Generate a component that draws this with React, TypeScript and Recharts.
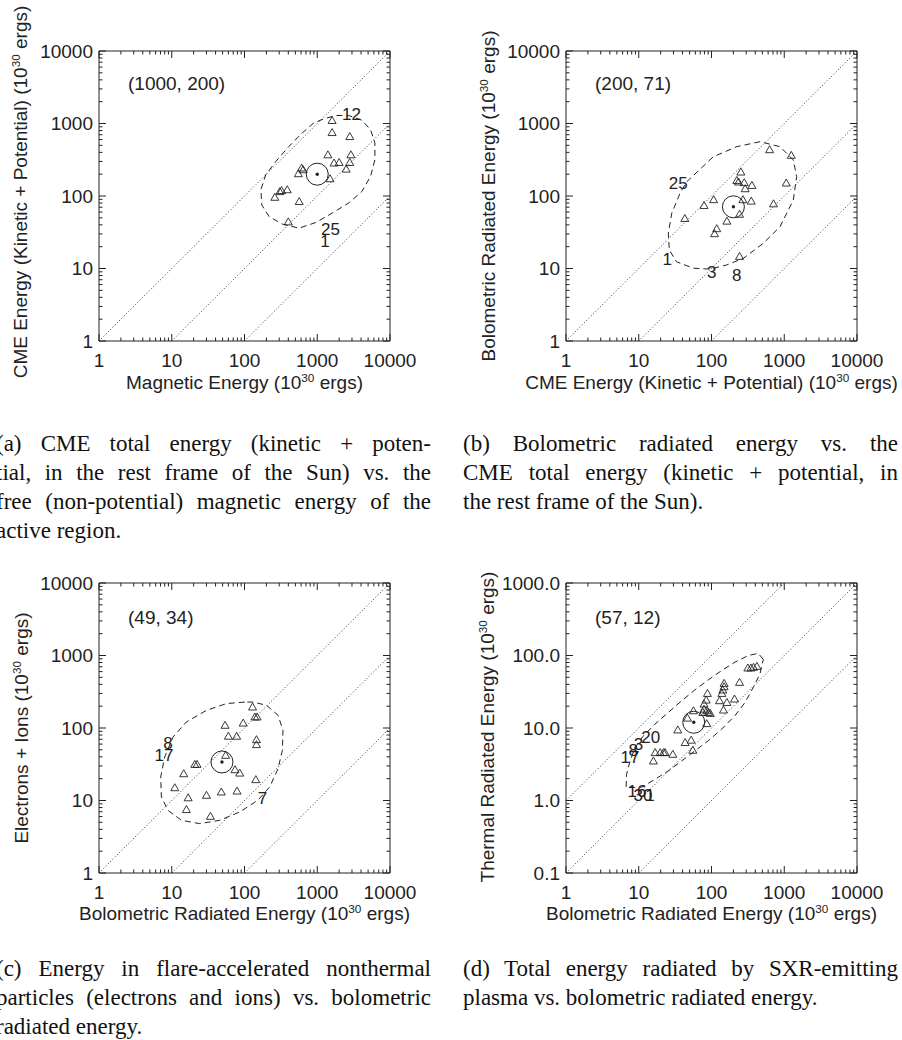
import React from "react";
import {
  ComposedChart,
  XAxis,
  YAxis,
  Scatter,
  Line,
  ReferenceLine,
  ReferenceArea,
} from "recharts";

type Pt = [number, number];
type Note = { x: number; y: number; text: string };

// ─── Axis ticks ──────────────────────────────────────────────────────────────

const X_MAJOR = [1, 10, 100, 1000, 10000];
const Y_MAJOR_ENERGY = [1, 10, 100, 1000, 10000];
const Y_MAJOR_THERMAL = [0.1, 1, 10, 100, 1000];
const MINOR_STEPS = [2, 3, 4, 5, 6, 7, 8, 9];

// ─── (a) CME energy vs. magnetic energy ──────────────────────────────────────

const A_POINTS: Pt[] = [
  [1600, 1100], [1600, 750], [2800, 660], [1400, 370], [2900, 370],
  [1700, 285], [2000, 290], [2800, 290], [2500, 235], [1500, 173],
  [610, 243], [640, 230], [550, 203], [387, 122], [306, 115],
  [323, 119], [261, 96], [565, 84], [400, 44],
];
const A_MEAN: Pt = [1000, 200];
const A_ELLIPSE: Pt[] = [
  [900, 1020], [620, 740], [410, 485], [270, 300], [196, 196], [168, 122],
  [173, 75], [218, 52], [330, 41], [560, 36], [950, 43], [1600, 58],
  [2700, 80], [4100, 115], [5400, 186], [6200, 317], [6200, 540],
  [5400, 824], [4100, 1110], [2700, 1290], [1790, 1290], [1240, 1160],
];
const A_NOTES: Note[] = [
  { x: 2960, y: 1330, text: "12" },
  { x: 1525, y: 34.8, text: "25" },
  { x: 1275, y: 23.5, text: "1" },
];

// ─── (b) Bolometric vs. CME energy ───────────────────────────────────────────

const B_POINTS: Pt[] = [
  [629, 435], [1248, 364], [253, 214], [223, 164], [235, 156],
  [282, 153], [290, 126], [359, 140], [1066, 151], [107, 89],
  [79, 74], [270, 89], [352, 85], [713, 78], [243, 56],
  [163, 45], [43, 49], [118, 35.4], [110, 30.2], [243, 14.7],
];
const B_MEAN: Pt = [200, 71];
const B_ELLIPSE: Pt[] = [
  [45.6, 157], [106, 348], [222, 479], [464, 561], [875, 479], [1331, 314],
  [1483, 185], [1331, 88], [875, 37.7], [516, 22.3], [274, 13.8],
  [162, 11.2], [95, 9.8], [56, 10.1], [33, 12.4], [26.3, 18],
  [25.5, 30.6], [28.4, 57.7], [36.9, 109],
];
const B_NOTES: Note[] = [
  { x: 35, y: 150, text: "25" },
  { x: 24.7, y: 13.4, text: "1" },
  { x: 101, y: 8.9, text: "3" },
  { x: 222, y: 7.9, text: "8" },
];

// ─── (c) Electrons + ions vs. bolometric ─────────────────────────────────────

const C_POINTS: Pt[] = [
  [129, 195], [139, 142], [149, 142], [54, 109], [96, 117],
  [60, 77], [78, 77], [146, 69], [146, 59], [55, 42],
  [20.7, 31.5], [22.3, 31.5], [74, 26.6], [86, 23.9], [14.6, 23.4],
  [143, 19.4], [11, 15], [16.8, 10.9], [30, 11.8], [48, 13.1],
  [79, 13.5], [15.9, 7.5], [34, 6.05],
];
const C_MEAN: Pt = [49, 34];
const C_ELLIPSE: Pt[] = [
  [100.7, 228], [56.4, 217], [29.9, 175], [15.9, 121], [10.4, 75],
  [8.0, 39.8], [7.05, 21.1], [7.2, 11.2], [8.9, 7.3], [13.6, 5.33],
  [24.2, 4.8], [45.6, 5.33], [86, 6.94], [153, 10.1], [222, 15.4],
  [289, 27.5], [332, 49.3], [338, 93], [289, 150], [200, 206], [131, 228],
];
const C_NOTES: Note[] = [
  { x: 8.9, y: 61, text: "8" },
  { x: 7.8, y: 42, text: "17" },
  { x: 176, y: 10.6, text: "7" },
];

// ─── (d) Thermal vs. bolometric ──────────────────────────────────────────────

const D_POINTS: Pt[] = [
  [316, 67.3], [348, 67.3], [378, 68.8], [421, 71], [243, 42.6],
  [149, 41.3], [149, 37.1], [143, 33.4], [139, 30], [88, 30],
  [207, 25.1], [129, 23.8], [163, 22.5], [84.5, 24.3], [79, 21.4],
  [79, 18.2], [76, 16.4], [86, 17.3], [91, 16.4], [96, 15.9],
  [146, 17.7], [86, 11.5], [56.5, 17.3], [46.7, 13.7], [34.4, 9.4],
  [43.4, 6.3], [52.5, 6.8], [55.4, 4.93], [16.8, 4.58], [19.7, 4.58],
  [21.9, 4.58], [23, 4.58], [29.4, 4.34], [15.9, 3.51],
];
const D_MEAN: Pt = [57, 12];
const D_ELLIPSE: Pt[] = [
  [515, 88], [440, 107], [321, 100], [210, 81], [138, 62], [90, 46],
  [59, 33.5], [39, 23.8], [25.5, 16.4], [16.7, 11.3], [11.6, 7.8],
  [8.9, 5.4], [7.6, 3.5], [6.8, 2.3], [6.7, 1.5], [11, 1.53],
  [16.7, 1.96], [25.5, 2.56], [39, 3.52], [59, 4.83], [90, 6.65],
  [138, 9.66], [210, 14.8], [289, 22.5], [376, 36.4], [464, 55.7],
];
const D_NOTES: Note[] = [
  { x: 14.6, y: 7.39, text: "20" },
  { x: 9.9, y: 5.85, text: "3" },
  { x: 8.4, y: 4.94, text: "8" },
  { x: 7.6, y: 3.91, text: "17" },
  { x: 9.46, y: 1.31, text: "16" },
  { x: 11.4, y: 1.19, text: "30" },
  { x: 14.3, y: 1.19, text: "1" },
];

// Dotted ratio guides (1:1, 1:10, 1:100)
const GUIDES_ENERGY: [Pt, Pt][] = [
  [[1, 1], [10000, 10000]],
  [[10, 1], [10000, 1000]],
  [[100, 1], [10000, 100]],
];
const GUIDES_THERMAL: [Pt, Pt][] = [
  [[1, 1], [1000, 1000]],
  [[1, 0.1], [10000, 1000]],
  [[10, 0.1], [10000, 100]],
];

// ─── Layout ──────────────────────────────────────────────────────────────────

const PLOT_W = 291;
const PLOT_H = 290;
const AXIS_W = 99;
const TOP_M = 51;
const RIGHT_M = 40;
const BOTTOM_H = 50;
const INK = "#222";
const SANS = '"Liberation Sans", Arial, sans-serif';
const SERIF = '"Liberation Serif", "Times New Roman", serif';

function withMinor(major: number[]): number[] {
  const out: number[] = [];
  major.forEach((m, i) => {
    out.push(m);
    if (i < major.length - 1)
      MINOR_STEPS.forEach((s) => out.push(+(m * s).toPrecision(6)));
  });
  return out;
}

const isMajor = (v: number, major: number[]) =>
  major.some((m) => Math.abs(m - v) < m * 1e-6);

// ─── Ticks (drawn inward on both opposite sides, IDL style) ─────────────────

function XTick(props: any) {
  const { x, y, payload } = props;
  const v = payload.value as number;
  const major = isMajor(v, X_MAJOR);
  const len = major ? 7 : 3.5;
  return (
    <g>
      <line x1={x} y1={y} x2={x} y2={y - len} stroke={INK} strokeWidth={1} />
      <line x1={x} y1={y - PLOT_H} x2={x} y2={y - PLOT_H + len} stroke={INK} strokeWidth={1} />
      {major && (
        <text
          x={x}
          y={y + 19}
          textAnchor="middle"
          dominantBaseline="central"
          fontFamily={SANS}
          fontSize={19}
          fill={INK}
        >
          {String(v)}
        </text>
      )}
    </g>
  );
}

function makeYTick(yMajor: number[], fmt: (v: number) => string) {
  return (props: any) => {
    const { x, y, payload } = props;
    const v = payload.value as number;
    const major = isMajor(v, yMajor);
    const len = major ? 7 : 3.5;
    return (
      <g>
        <line x1={x} y1={y} x2={x + len} y2={y} stroke={INK} strokeWidth={1} />
        <line x1={x + PLOT_W} y1={y} x2={x + PLOT_W - len} y2={y} stroke={INK} strokeWidth={1} />
        {major && (
          <text
            x={x - 6}
            y={y}
            textAnchor="end"
            dominantBaseline="central"
            fontFamily={SANS}
            fontSize={19}
            fill={INK}
          >
            {fmt(v)}
          </text>
        )}
      </g>
    );
  };
}

// ─── Marker shapes ───────────────────────────────────────────────────────────

function Triangle(props: any) {
  const { cx, cy } = props;
  return (
    <path
      d={`M${cx - 4},${cy + 3} L${cx + 4},${cy + 3} L${cx},${cy - 4} Z`}
      fill="none"
      stroke={INK}
      strokeWidth={0.9}
    />
  );
}

function MeanMark(props: any) {
  const { cx, cy } = props;
  return (
    <g>
      <circle cx={cx} cy={cy} r={11} fill="none" stroke={INK} strokeWidth={1} />
      <circle cx={cx} cy={cy} r={1.7} fill={INK} />
    </g>
  );
}

function NoteText(props: any) {
  const { cx, cy, payload } = props;
  return (
    <text
      x={cx}
      y={cy}
      textAnchor="middle"
      dominantBaseline="central"
      fontFamily={SANS}
      fontSize={17}
      fill={INK}
    >
      {payload.text}
    </text>
  );
}

// ─── Panel ───────────────────────────────────────────────────────────────────

interface PanelProps {
  left: number;
  top: number;
  yDomain: [number, number];
  yMajor: number[];
  yFmt: (v: number) => string;
  points: Pt[];
  mean: Pt;
  ellipse: Pt[];
  notes: Note[];
  guides: [Pt, Pt][];
}

function Panel({ left, top, yDomain, yMajor, yFmt, points, mean, ellipse, notes, guides }: PanelProps) {
  const xTicks = withMinor(X_MAJOR);
  const yTicks = withMinor(yMajor);
  const YTick = makeYTick(yMajor, yFmt);
  return (
    <div style={{ position: "absolute", left: left - AXIS_W, top: top - TOP_M }}>
      <ComposedChart
        width={AXIS_W + PLOT_W + RIGHT_M}
        height={TOP_M + PLOT_H + BOTTOM_H}
        margin={{ top: TOP_M, right: RIGHT_M, bottom: 0, left: 0 }}
      >
        <XAxis
          dataKey="x"
          type="number"
          scale="log"
          domain={[1, 10000]}
          allowDataOverflow
          ticks={xTicks}
          interval={0}
          tickSize={0}
          tickMargin={0}
          axisLine={false}
          tickLine={false}
          height={BOTTOM_H}
          tick={(p: any) => <XTick {...p} />}
        />
        <YAxis
          dataKey="y"
          type="number"
          scale="log"
          domain={yDomain}
          allowDataOverflow
          ticks={yTicks}
          interval={0}
          tickSize={0}
          tickMargin={0}
          axisLine={false}
          tickLine={false}
          width={AXIS_W}
          tick={(p: any) => <YTick {...p} />}
        />

        <ReferenceArea
          x1={1}
          x2={10000}
          y1={yDomain[0]}
          y2={yDomain[1]}
          fill="none"
          stroke={INK}
          strokeWidth={1}
          ifOverflow="visible"
        />

        {guides.map(([a, b], i) => (
          <ReferenceLine
            key={i}
            segment={[{ x: a[0], y: a[1] }, { x: b[0], y: b[1] }]}
            stroke="#333"
            strokeWidth={1}
            strokeDasharray="1 2.2"
            ifOverflow="visible"
          />
        ))}

        <Line
          data={ellipse.map(([x, y]) => ({ x, y }))}
          dataKey="y"
          type="linearClosed"
          stroke={INK}
          strokeWidth={1}
          strokeDasharray="6 4"
          dot={false}
          activeDot={false}
          isAnimationActive={false}
        />

        <Scatter
          data={points.map(([x, y]) => ({ x, y }))}
          shape={(p: any) => <Triangle {...p} />}
          isAnimationActive={false}
        />
        <Scatter
          data={[{ x: mean[0], y: mean[1] }]}
          shape={(p: any) => <MeanMark {...p} />}
          isAnimationActive={false}
        />
        <Scatter
          data={notes}
          shape={(p: any) => <NoteText {...p} />}
          isAnimationActive={false}
        />
      </ComposedChart>
    </div>
  );
}

// ─── Text helpers ────────────────────────────────────────────────────────────

const Sup = ({ children }: { children: React.ReactNode }) => (
  <span style={{ fontSize: "0.62em", position: "relative", top: "-0.62em" }}>{children}</span>
);

function AxisTitle({ cx, cy, vertical, children }: { cx: number; cy: number; vertical?: boolean; children: React.ReactNode }) {
  return (
    <div
      style={{
        position: "absolute",
        left: cx,
        top: cy,
        transform: `translate(-50%, -50%)${vertical ? " rotate(-90deg)" : ""}`,
        whiteSpace: "nowrap",
        fontFamily: SANS,
        fontSize: 19,
        lineHeight: 1,
        color: INK,
      }}
    >
      {children}
    </div>
  );
}

function Stat({ left, cy, text }: { left: number; cy: number; text: string }) {
  return (
    <div
      style={{
        position: "absolute",
        left,
        top: cy - 9.5,
        fontFamily: SANS,
        fontSize: 19,
        lineHeight: 1,
        color: INK,
        whiteSpace: "nowrap",
      }}
    >
      {text}
    </div>
  );
}

const CAP_LINE = 29;

function Caption({ left, top, width, lines }: { left: number; top: number; width: number; lines: string[] }) {
  return (
    <div style={{ position: "absolute", left, top, width, fontFamily: SERIF, fontSize: 23, color: "#111" }}>
      {lines.map((l, i) => (
        <div
          key={i}
          style={{
            height: CAP_LINE,
            lineHeight: `${CAP_LINE}px`,
            textAlign: "justify",
            textAlignLast: i < lines.length - 1 ? "justify" : "left",
          }}
        >
          {l}
        </div>
      ))}
    </div>
  );
}

const CAPTION_A = [
  "(a) CME total energy (kinetic + poten-",
  "tial, in the rest frame of the Sun) vs. the",
  "free (non-potential) magnetic energy of the",
  "active region.",
];
const CAPTION_B = [
  "(b) Bolometric radiated energy vs. the",
  "CME total energy (kinetic + potential, in",
  "the rest frame of the Sun).",
];
const CAPTION_C = [
  "(c) Energy in flare-accelerated nonthermal",
  "particles (electrons and ions) vs. bolometric",
  "radiated energy.",
];
const CAPTION_D = [
  "(d) Total energy radiated by SXR-emitting",
  "plasma vs. bolometric radiated energy.",
];

const fmtInt = (v: number) => String(v);
const fmtOne = (v: number) => v.toFixed(1);

// ─── App ─────────────────────────────────────────────────────────────────────

export default function App() {
  return (
    <div
      style={{
        position: "absolute",
        left: 0,
        top: 0,
        width: 902,
        height: 1040,
        background: "#fff",
        overflow: "hidden",
      }}
    >
      <Panel left={99} top={51} yDomain={[1, 10000]} yMajor={Y_MAJOR_ENERGY} yFmt={fmtInt}
        points={A_POINTS} mean={A_MEAN} ellipse={A_ELLIPSE} notes={A_NOTES} guides={GUIDES_ENERGY} />
      <Panel left={566} top={51} yDomain={[1, 10000]} yMajor={Y_MAJOR_ENERGY} yFmt={fmtInt}
        points={B_POINTS} mean={B_MEAN} ellipse={B_ELLIPSE} notes={B_NOTES} guides={GUIDES_ENERGY} />
      <Panel left={99} top={583} yDomain={[1, 10000]} yMajor={Y_MAJOR_ENERGY} yFmt={fmtInt}
        points={C_POINTS} mean={C_MEAN} ellipse={C_ELLIPSE} notes={C_NOTES} guides={GUIDES_ENERGY} />
      <Panel left={566} top={583} yDomain={[0.1, 1000]} yMajor={Y_MAJOR_THERMAL} yFmt={fmtOne}
        points={D_POINTS} mean={D_MEAN} ellipse={D_ELLIPSE} notes={D_NOTES} guides={GUIDES_THERMAL} />

      <Stat left={128} cy={83} text="(1000, 200)" />
      <Stat left={595} cy={83} text="(200, 71)" />
      <Stat left={128} cy={617} text="(49, 34)" />
      <Stat left={595} cy={617} text="(57, 12)" />

      <AxisTitle cx={244.5} cy={382}>Magnetic Energy (10<Sup>30</Sup> ergs)</AxisTitle>
      <AxisTitle cx={711.5} cy={382}>CME Energy (Kinetic + Potential) (10<Sup>30</Sup> ergs)</AxisTitle>
      <AxisTitle cx={244.5} cy={913}>Bolometric Radiated Energy (10<Sup>30</Sup> ergs)</AxisTitle>
      <AxisTitle cx={711.5} cy={913}>Bolometric Radiated Energy (10<Sup>30</Sup> ergs)</AxisTitle>

      <AxisTitle cx={20} cy={192} vertical>CME Energy (Kinetic + Potential) (10<Sup>30</Sup> ergs)</AxisTitle>
      <AxisTitle cx={488} cy={196} vertical>Bolometric Radiated Energy (10<Sup>30</Sup> ergs)</AxisTitle>
      <AxisTitle cx={21} cy={728} vertical>Electrons + Ions (10<Sup>30</Sup> ergs)</AxisTitle>
      <AxisTitle cx={487} cy={727} vertical>Thermal Radiated Energy (10<Sup>30</Sup> ergs)</AxisTitle>

      <Caption left={-4} top={428.5} width={435} lines={CAPTION_A} />
      <Caption left={463} top={428.5} width={435} lines={CAPTION_B} />
      <Caption left={-4} top={953.5} width={435} lines={CAPTION_C} />
      <Caption left={463} top={953.5} width={435} lines={CAPTION_D} />
    </div>
  );
}
